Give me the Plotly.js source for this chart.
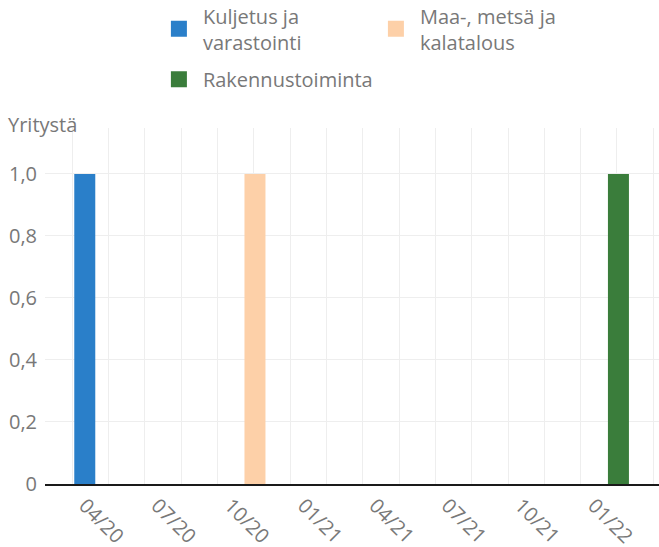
<!DOCTYPE html>
<html>
<head>
<meta charset="utf-8">
<script src="https://cdn.plot.ly/plotly-3.0.1.min.js"></script>
<style>html,body{margin:0;padding:0;background:#fff;}#chart{width:659px;height:547px;}</style>
</head>
<body>
<div id="chart"></div>
<script>
// ---- data ----
const categories = ['Kuljetus ja<br>varastointi', 'Maa-, metsä ja<br>kalatalous', 'Rakennustoiminta'];
const months = ['2020-04-01', '2020-11-01', '2022-02-01'];
const values = [1, 1, 1];
const colors = ['#2a7fc9', '#fdd0a8', '#3a7d3b'];
const yTickVals = [0, 0.2, 0.4, 0.6, 0.8, 1.0];
const yTickText = ['0', '0,2', '0,4', '0,6', '0,8', '1,0'];
const yTitle = 'Yritystä';

const DAY = 86400000;
const font = {family: '"Open Sans", sans-serif', size: 20, color: '#787878'};
const legendFor = ['legend', 'legend', 'legend2'];

const traces = [];
categories.forEach((c, i) => {
  traces.push({
    type: 'bar', name: c, x: [months[i]], y: [values[i]],
    width: 26.4 * DAY, marker: {color: colors[i], line: {width: 0}},
    showlegend: false, legendgroup: 'g' + i, hoverinfo: 'x+y'
  });
});
categories.forEach((c, i) => {
  traces.push({
    type: 'scatter', mode: 'markers', name: c, x: [null], y: [null],
    marker: {symbol: 'square', size: 16, color: colors[i]},
    legend: legendFor[i], legendgroup: 'g' + i, showlegend: true
  });
});

const layout = {
  width: 659, height: 547,
  margin: {l: 45, r: 0, t: 128, b: 63, autoexpand: false},
  paper_bgcolor: '#fff', plot_bgcolor: '#fff',
  font: font,
  barmode: 'overlay',
  xaxis: {
    type: 'date',
    range: ['2020-02-11', '2022-03-24'],
    tickmode: 'linear', tick0: '2020-01-01', dtick: 'M3',
    tickformat: '%m/%y', tickangle: 45,
    showgrid: false, zeroline: false,
    showline: true, linecolor: '#1a1a1a', linewidth: 2,
    ticks: '',
    tickfont: font,
    minor: {tick0: '2020-05-01', dtick: 45.65 * DAY, showgrid: true, gridcolor: '#eeeeee', gridwidth: 1, ticks: ''}
  },
  yaxis: {
    range: [0, 1.148],
    tickmode: 'array', tickvals: yTickVals, ticktext: yTickText,
    showgrid: true, gridcolor: '#eeeeee', gridwidth: 1,
    zeroline: false, showline: false, ticks: '',
    tickfont: font, ticklabelstandoff: 7
  },
  legend: {
    orientation: 'h', x: 0.179, xanchor: 'left', y: 1.37, yanchor: 'top',
    itemwidth: 38, entrywidth: 164, entrywidthmode: 'pixels',
    font: font, bgcolor: 'rgba(0,0,0,0)', borderwidth: 0, itemclick: false
  },
  legend2: {
    orientation: 'h', x: 0.179, xanchor: 'left', y: 1.192, yanchor: 'top',
    itemwidth: 38,
    font: font, bgcolor: 'rgba(0,0,0,0)', borderwidth: 0, itemclick: false
  },
  annotations: [{
    text: yTitle, xref: 'paper', yref: 'paper',
    x: -0.063, xanchor: 'left', y: 1.011, yanchor: 'middle',
    showarrow: false, font: font
  }]
};

Plotly.newPlot('chart', traces, layout, {displayModeBar: false});
</script>
</body>
</html>
